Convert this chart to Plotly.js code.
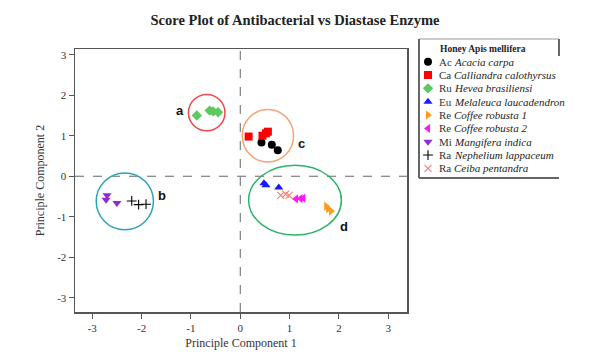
<!DOCTYPE html>
<html><head><meta charset="utf-8">
<script src="https://cdn.plot.ly/plotly-3.0.1.min.js"></script>
<style>html,body{margin:0;padding:0;background:#fff}</style>
</head><body><div id="chart" style="width:616px;height:357px"></div>
<script>
// ---- data ----
const codes = ["Ac","Ca","Ru","Eu","Re","Re","Mi","Ra","Ra"];
const names = ["Acacia carpa","Calliandra calothyrsus","Hevea brasiliensi","Melaleuca laucadendron","Coffee robusta 1","Coffee robusta 2","Mangifera indica","Nephelium lappaceum","Ceiba pentandra"];
const pc1 = [
  [0.43, 0.64, 0.76],
  [0.17, 0.45, 0.52, 0.56],
  [-0.88, -0.62, -0.55, -0.45],
  [0.48, 0.52, 0.78],
  [1.74, 1.78, 1.84],
  [1.13, 1.22, 1.28],
  [-2.70, -2.72, -2.50],
  [-2.20, -2.06, -1.91],
  [0.82, 0.92, 0.99]
];
const pc2 = [
  [0.83, 0.78, 0.64],
  [0.98, 1.00, 1.06, 1.10],
  [1.50, 1.62, 1.60, 1.58],
  [-0.17, -0.22, -0.28],
  [-0.74, -0.80, -0.86],
  [-0.56, -0.55, -0.54],
  [-0.47, -0.58, -0.66],
  [-0.61, -0.70, -0.69],
  [-0.47, -0.44, -0.47]
];
const tickVals = [-3,-2,-1,0,1,2,3];
const tickText = ["-3","-2","-1","0","1","2","3"];
const groupLabels = ["a","b","c","d"];
const groupCx = [-0.68, -2.34, 0.56, 1.11];
const groupCy = [1.57, -0.62, 1.00, -0.59];
const groupRx = [0.37, 0.58, 0.52, 0.94];
const groupRy = [0.45, 0.70, 0.65, 0.86];
const labelX = [-1.22, -1.59, 1.25, 2.10];
const labelY = [1.61, -0.47, 0.81, -1.23];

// ---- styles ----
const symbols = ["circle","square","diamond","triangle-up","triangle-right","triangle-left","triangle-down","cross-thin-open","x-thin-open"];
const colors = ["#000000","#ff0000","#5ec95e","#1a1aff","#ff9b1f","#ff19ff","#8e2bd6","#000000","#ff7a7a"];
const groupColors = ["#f04848","#2aa3b8","#f5a372","#2db46a"];

function markerFor(i){
  const thin = symbols[i].indexOf("thin")>=0;
  return {symbol:symbols[i], color:colors[i], size: thin?7:8,
    line:{width: thin?1.1:0, color:colors[i]}};
}
const traces = [];
names.forEach((n,i)=>{
  traces.push({
    type:"scatter", mode:"markers", name:n, x:pc1[i], y:pc2[i],
    xaxis:"x", yaxis:"y", marker:markerFor(i),
    showlegend:false, hoverinfo:"x+y+name"
  });
});
// custom legend markers (row index = category index)
names.forEach((n,i)=>{
  traces.push({
    type:"scatter", mode:"markers", x:[9], y:[i], xaxis:"x2", yaxis:"y2",
    marker:markerFor(i), showlegend:false, hoverinfo:"skip"
  });
});

const shapes = [
  {type:"line", xref:"x", yref:"paper", x0:0, x1:0, y0:45/357, y1:308/357, line:{color:"#666", width:1, dash:"dash"}},
  {type:"line", xref:"paper", yref:"y", x0:75/616, x1:407/616, y0:0, y1:0, line:{color:"#666", width:1, dash:"dash"}}
];
groupLabels.forEach((g,i)=>{
  shapes.push({type:"circle", xref:"x", yref:"y",
    x0:groupCx[i]-groupRx[i], x1:groupCx[i]+groupRx[i],
    y0:groupCy[i]-groupRy[i], y1:groupCy[i]+groupRy[i],
    line:{color:groupColors[i], width:1.5}});
});
// legend box
const L=419/616, R=559/616, T=1-39/357, B=1-178/357;
shapes.push({type:"line", xref:"paper", yref:"paper", x0:L, x1:R, y0:T, y1:T, line:{color:"#999", width:1}});
shapes.push({type:"line", xref:"paper", yref:"paper", x0:L, x1:L, y0:T, y1:B, line:{color:"#666", width:2}});
shapes.push({type:"line", xref:"paper", yref:"paper", x0:L, x1:R, y0:B, y1:B, line:{color:"#666", width:2}});
shapes.push({type:"line", xref:"paper", yref:"paper", x0:R, x1:R, y0:T, y1:1-56/357, line:{color:"#666", width:2}});

const annotations = [];
groupLabels.forEach((g,i)=>{
  annotations.push({x:labelX[i], y:labelY[i], xref:"x", yref:"y", text:"<b>"+g+"</b>", showarrow:false,
    font:{family:"Liberation Sans, Arial", size:13, color:"#111"}});
});
annotations.push({x:18.5, y:-0.97, xref:"x2", yref:"y2", text:"<b>Honey Apis mellifera</b>", showarrow:false, xanchor:"left",
  font:{family:"Liberation Serif, Times New Roman", size:9.5, color:"#222"}});
names.forEach((n,i)=>{
  annotations.push({x:18, y:i, xref:"x2", yref:"y2", text:codes[i], showarrow:false, xanchor:"left",
    font:{family:"Liberation Serif, Times New Roman", size:11, color:"#333"}});
  annotations.push({x:32.5, y:i, xref:"x2", yref:"y2", text:"<i>"+n+"</i>", showarrow:false, xanchor:"left",
    font:{family:"Liberation Serif, Times New Roman", size:11, color:"#222"}});
});

const serif = "Liberation Serif, Times New Roman, serif";
const layout = {
  width:616, height:357, margin:{l:0,r:0,t:0,b:0},
  paper_bgcolor:"#fff", plot_bgcolor:"#fff",
  showlegend:false,
  title:{text:"<b>Score Plot of Antibacterial vs Diastase Enzyme</b>", xref:"container", yref:"container",
    x:295/616, y:1-20/357, xanchor:"center", yanchor:"middle",
    font:{family:serif, size:14.5, color:"#222"}},
  xaxis:{domain:[75/616, 407/616], range:[-3.35, 3.38], tickvals:tickVals, ticktext:tickText,
    showgrid:false, zeroline:false, showline:true, mirror:true, linecolor:"#555", linewidth:1.5,
    ticks:"outside", ticklen:5, tickcolor:"#555", tickfont:{family:serif, size:11, color:"#333"},
    title:{text:"Principle Component 1", font:{family:serif, size:12, color:"#333"}, standoff:6}},
  yaxis:{domain:[45/357, 308/357], range:[-3.35, 3.14], tickvals:tickVals, ticktext:tickText,
    showgrid:false, zeroline:false, showline:true, mirror:true, linecolor:"#555", linewidth:1.5,
    ticks:"outside", ticklen:5, tickcolor:"#555", tickfont:{family:serif, size:11, color:"#333"},
    title:{text:"Principle Component 2", font:{family:serif, size:12, color:"#333"}, standoff:10}},
  xaxis2:{domain:[L, R], range:[0,140], visible:false, fixedrange:true},
  yaxis2:{domain:[B, T], range:[8.72, -1.70], visible:false, fixedrange:true},
  shapes:shapes, annotations:annotations
};
Plotly.newPlot("chart", traces, layout, {displayModeBar:false, staticPlot:true});
</script></body></html>
